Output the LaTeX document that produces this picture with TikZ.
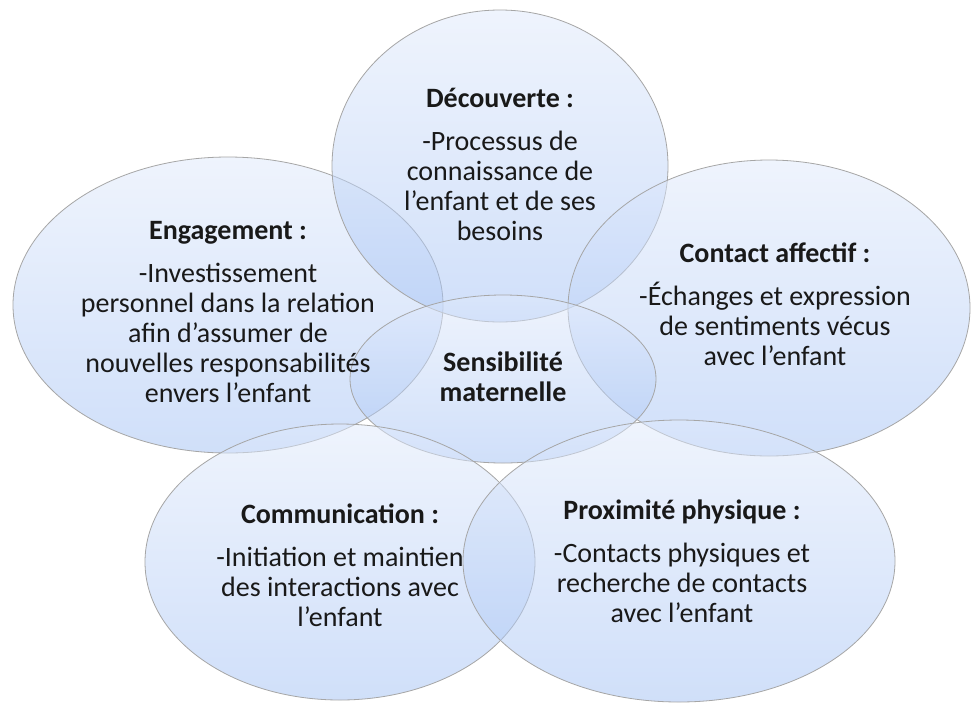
\documentclass[tikz,border=0pt]{standalone}
\usepackage{fontspec}
\setmainfont{Carlito}
\definecolor{bulleHaut}{RGB}{224,234,252}
\definecolor{bulleBas}{RGB}{162,193,245}
\begin{document}
\begin{tikzpicture}[x=0.5pt, y=-0.5pt,
    bulle/.style={top color=bulleHaut, bottom color=bulleBas, fill opacity=0.5,
        draw=gray!70, draw opacity=1, line width=0.4pt},
    texte/.style={align=center, text=black!90, font=\fontsize{14}{15}\selectfont}]
    \def\titre#1{\textbf{#1}\\[6.5pt]}

    \useasboundingbox[fill=white] (0,0) rectangle (972,702);

% centres of the bubbles
    \def\cEng{(228,305)};
    \def\cDec{(500,166)};
    \def\cCon{(769,308)};
    \def\cSen{(503,379)};
    \def\cCom{(340,562)};
    \def\cPro{(679,561)};

% bubbles
    \shadedraw[bulle] \cEng ellipse [x radius=215, y radius=148];
    \shadedraw[bulle] \cDec ellipse [x radius=168, y radius=156];
    \shadedraw[bulle] \cCon ellipse [x radius=201, y radius=148];
    \shadedraw[bulle] \cSen ellipse [x radius=153, y radius=84];
    \shadedraw[bulle] \cCom ellipse [x radius=195, y radius=138];
    \shadedraw[bulle] \cPro ellipse [x radius=216, y radius=141];

% texts
    \node[texte] (tDec) at (500,164) {\titre{Découverte :}-Processus de\\connaissance de\\l’enfant et de ses\\besoins};
    \node[texte] (tEng) at (228,312) {\titre{Engagement :}-Investissement\\personnel dans la relation\\afin d’assumer de\\nouvelles responsabilités\\envers l’enfant};
    \node[texte] (tCon) at (775,304) {\titre{Contact affectif :}-Échanges et expression\\de sentiments vécus\\avec l’enfant};
    \node[texte, font=\bfseries\fontsize{14}{15}\selectfont] (tSen) at (503,377) {Sensibilité\\maternelle};
    \node[texte] (tCom) at (340,565) {\titre{Communication :}-Initiation et maintien\\des interactions avec\\l’enfant};
    \node[texte] (tPro) at (682,561) {\titre{Proximité physique :}-Contacts physiques et\\recherche de contacts\\avec l’enfant};
\end{tikzpicture}
\end{document}
